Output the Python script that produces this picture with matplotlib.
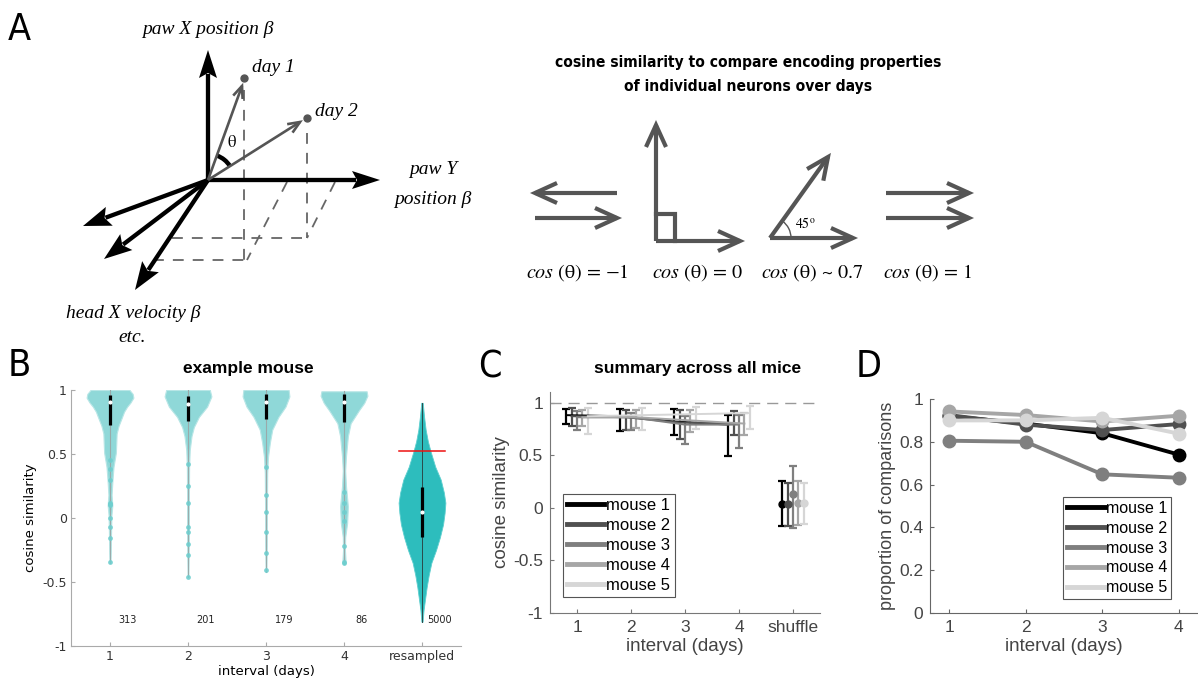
import numpy as np
import matplotlib
matplotlib.use('Agg')
import matplotlib.pyplot as plt
from matplotlib.patches import Polygon, Arc
from matplotlib.lines import Line2D

plt.rcParams['axes.unicode_minus'] = False
plt.rcParams['mathtext.fontset'] = 'stix'
plt.rcParams['font.family'] = ['Liberation Sans', 'DejaVu Sans']

# -----------------------
# Data
# -----------------------
# B: violin outlines (y, half width) per interval
violin_pos = [1, 2, 3, 4, 5]
violin_labels = ['1', '2', '3', '4', 'resampled']
counts = [313, 201, 179, 86, 5000]

v1_y = [1.0, 0.97, 0.94, 0.90, 0.87, 0.83, 0.79, 0.72, 0.66, 0.58, 0.51, 0.40, 0.30, 0.18, 0.10, 0.02, -0.10, -0.25, -0.35]
v1_w = [0.25, 0.29, 0.30, 0.26, 0.22, 0.18, 0.155, 0.11, 0.085, 0.08, 0.075, 0.045, 0.032, 0.02, 0.03, 0.018, 0.014, 0.01, 0.006]
v2_y = [1.0, 0.95, 0.87, 0.79, 0.71, 0.64, 0.53, 0.40, 0.20, 0.0, -0.20, -0.46]
v2_w = [0.28, 0.30, 0.245, 0.14, 0.075, 0.045, 0.022, 0.014, 0.012, 0.012, 0.01, 0.005]
v3_y = [1.0, 0.95, 0.87, 0.79, 0.69, 0.59, 0.48, 0.35, 0.10, -0.20, -0.42]
v3_w = [0.29, 0.30, 0.25, 0.16, 0.08, 0.05, 0.026, 0.015, 0.012, 0.01, 0.005]
v4_y = [0.99, 0.955, 0.90, 0.84, 0.74, 0.64, 0.48, 0.37, 0.25, 0.09, -0.04, -0.15, -0.25, -0.33, -0.36]
v4_w = [0.29, 0.30, 0.26, 0.19, 0.085, 0.05, 0.025, 0.015, 0.025, 0.05, 0.04, 0.015, 0.012, 0.02, 0.005]
v5_y = [0.90, 0.80, 0.69, 0.60, 0.52, 0.40, 0.30, 0.20, 0.12, 0.04, -0.05, -0.15, -0.25, -0.35, -0.45, -0.54, -0.63, -0.72, -0.81]
v5_w = [0.01, 0.025, 0.047, 0.075, 0.11, 0.17, 0.24, 0.28, 0.30, 0.29, 0.27, 0.23, 0.18, 0.12, 0.085, 0.06, 0.04, 0.02, 0.008]

box_lo = [0.727, 0.76, 0.775, 0.75, -0.146]
box_hi = [0.96, 0.955, 0.97, 0.97, 0.245]
medians = [0.91, 0.89, 0.91, 0.91, 0.05]
shuffle_thresh = 0.52

# a few visible single points in the tails
tail1 = [0.45, 0.38, 0.30, 0.12, 0.11, 0.10, 0.0, -0.07, -0.16, -0.34]
tail2 = [0.42, 0.25, 0.12, -0.07, -0.11, -0.20, -0.29, -0.46]
tail3 = [0.40, 0.18, 0.05, -0.11, -0.27, -0.41]
tail4 = [0.20, 0.12, 0.05, -0.02, -0.22, -0.34, -0.35]

# C: median and spread per mouse, intervals 1-4, plus shuffle
intervals = [1, 2, 3, 4]
mice = ['mouse 1', 'mouse 2', 'mouse 3', 'mouse 4', 'mouse 5']
c_med = [[0.88, 0.87, 0.82, 0.79],
         [0.87, 0.86, 0.81, 0.80],
         [0.86, 0.86, 0.79, 0.79],
         [0.86, 0.86, 0.83, 0.80],
         [0.87, 0.88, 0.89, 0.90]]
c_lo = [[0.80, 0.725, 0.69, 0.49],
        [0.775, 0.735, 0.65, 0.69],
        [0.74, 0.74, 0.61, 0.567],
        [0.78, 0.76, 0.72, 0.69],
        [0.70, 0.74, 0.75, 0.75]]
c_hi = [[0.94, 0.934, 0.934, 0.886],
        [0.95, 0.925, 0.925, 0.915],
        [0.92, 0.905, 0.87, 0.877],
        [0.93, 0.93, 0.925, 0.905],
        [0.95, 0.95, 0.96, 0.965]]
sh_med = [0.04, 0.04, 0.13, 0.05, 0.05]
sh_lo = [-0.175, -0.175, -0.19, -0.166, -0.15]
sh_hi = [0.254, 0.24, 0.40, 0.254, 0.24]

# D: proportion of comparisons
d_vals = [[0.92, 0.885, 0.84, 0.74],
          [0.925, 0.88, 0.855, 0.883],
          [0.805, 0.80, 0.648, 0.632],
          [0.942, 0.925, 0.895, 0.922],
          [0.90, 0.90, 0.912, 0.838]]

mouse_colors = ['#000000', '#505050', '#7f7f7f', '#a6a6a6', '#d6d6d6']
teal = '#2dbdbd'

fig = plt.figure(figsize=(11.98, 6.84), dpi=100)

# -----------------------
# overlay in pixel coords for panel A and labels
# -----------------------
ax0 = fig.add_axes([0, 0, 1, 1])
ax0.set_xlim(0, 1198)
ax0.set_ylim(684, 0)
ax0.axis('off')


def solid_arrow(p0, p1, lw=3.1, hl=28, hw=9, color='k'):
    p0, p1 = np.array(p0, float), np.array(p1, float)
    u = (p1 - p0) / np.hypot(*(p1 - p0))
    n = np.array([-u[1], u[0]])
    base = p1 - u * hl
    ax0.plot([p0[0], base[0] + u[0] * 4], [p0[1], base[1] + u[1] * 4], color=color, lw=lw, solid_capstyle='butt')
    ax0.add_patch(Polygon([p1, base + n * hw, base + u * 5, base - n * hw], closed=True, fc=color, ec='none'))


def open_arrow(p0, p1, lw=3, hl=22, hw=10, color='#555555'):
    p0, p1 = np.array(p0, float), np.array(p1, float)
    u = (p1 - p0) / np.hypot(*(p1 - p0))
    n = np.array([-u[1], u[0]])
    ax0.plot([p0[0], p1[0]], [p0[1], p1[1]], color=color, lw=lw, solid_capstyle='butt')
    a, b = p1 - u * hl + n * hw, p1 - u * hl - n * hw
    ax0.plot([a[0], p1[0], b[0]], [a[1], p1[1], b[1]], color=color, lw=lw,
             solid_joinstyle='miter', solid_capstyle='butt')


serif_it = dict(family=['Liberation Serif', 'DejaVu Serif'], style='italic', fontsize=14)
gray_dash = dict(color='#666666', lw=1.3, dashes=(6, 5))

# dashed projection lines
ax0.plot([244, 244], [90, 260], **gray_dash)
ax0.plot([307, 307], [133, 238], **gray_dash)
ax0.plot([287, 247], [182, 260], **gray_dash)
ax0.plot([335, 307], [182, 238], **gray_dash)
ax0.plot([172, 307], [238, 238], **gray_dash)
ax0.plot([153, 247], [260, 260], **gray_dash)

O = (208, 180)
solid_arrow(O, (208, 50))
solid_arrow(O, (380, 180))
solid_arrow(O, (83, 226), hw=10)
solid_arrow(O, (104, 259), hw=10)
solid_arrow(O, (135, 290), hw=10)

open_arrow(O, (242, 86), lw=1.9, hl=12, hw=5)
open_arrow(O, (300, 122), lw=1.9, hl=12, hw=5)
ax0.plot([244, 307], [78, 118], 'o', color='#555555', ms=5, ls='none')
ax0.add_patch(Arc(O, 52, 52, theta1=-70, theta2=-32, color='k', lw=3.2))
ax0.text(232, 143, 'θ', family='STIXGeneral', fontsize=12, ha='center', va='center')

ax0.text(208, 29, 'paw X position β', ha='center', va='center', **serif_it)
ax0.text(252, 68, 'day 1', ha='left', va='center', **serif_it)
ax0.text(315, 112, 'day 2', ha='left', va='center', **serif_it)
ax0.text(433, 170, 'paw Y', ha='center', va='center', **serif_it)
ax0.text(433, 199, 'position β', ha='center', va='center', **serif_it)
ax0.text(133, 313, 'head X velocity β', ha='center', va='center', **serif_it)
ax0.text(132, 337, 'etc.', ha='center', va='center', **serif_it)

# cosine sketches
cond_bold = dict(family='DejaVu Sans', stretch='condensed', fontweight='bold', fontsize=11.2)
ax0.text(748, 63, 'cosine similarity to compare encoding properties', ha='center', va='center', **cond_bold)
ax0.text(748, 87, 'of individual neurons over days', ha='center', va='center', **cond_bold)

open_arrow((617, 193), (535, 193))
open_arrow((535, 218), (617, 218))
open_arrow((656, 241), (656, 125))
open_arrow((656, 241), (740, 241))
ax0.plot([656, 675, 675], [214, 214, 241], color='#555555', lw=3, solid_joinstyle='miter')
open_arrow((770, 238), (853, 238))
open_arrow((770, 238), (828, 157))
ax0.add_patch(Arc((770, 238), 42, 42, theta1=-54, theta2=0, color='#555555', lw=1))
ax0.text(795, 223, r'45$^{\mathrm{o}}$', family='STIXGeneral', fontsize=10, ha='left', va='center')
open_arrow((886, 193), (969, 193))
open_arrow((886, 218), (969, 218))

cos_x = [577, 697, 812, 927]
cos_txt = ['= \u22121', '= 0', '~ 0.7', '= 1']
for x, t in zip(cos_x, cos_txt):
    ax0.text(x, 273, r'$\mathit{cos}$ (θ) ' + t, family='STIXGeneral', fontsize=14.5,
             ha='center', va='center')

# panel letters and titles
letter_font = dict(family='DejaVu Sans', stretch='condensed', fontsize=27, ha='center', va='center')
ax0.text(19, 30, 'A', **letter_font)
ax0.text(19, 366, 'B', **letter_font)
ax0.text(490, 367, 'C', **letter_font)
ax0.text(869, 367, 'D', **letter_font)
ax0.text(248, 368, 'example mouse', ha='center', va='center', fontsize=12.5, fontweight='bold')
ax0.text(698, 368, 'summary across all mice', ha='center', va='center', fontsize=12.5, fontweight='bold')

# -----------------------
# B: violins
# -----------------------
axB = fig.add_axes([71 / 1198, 38 / 684, 390 / 1198, 256 / 684])
axB.patch.set_alpha(0)
prof_y = [v1_y, v2_y, v3_y, v4_y, v5_y]
prof_w = [v1_w, v2_w, v3_w, v4_w, v5_w]
tails = [tail1, tail2, tail3, tail4]
for i, pos in enumerate(violin_pos):
    y = np.array(prof_y[i])
    w = np.array(prof_w[i])
    if i < 4:
        axB.fill_betweenx(y, pos - w, pos + w, facecolor='#8fd8d8', edgecolor='#b8e6e6', lw=0.8)
        axB.plot([pos, pos], [y.min(), y.max()], color='#9aaaaa', lw=0.8)
        axB.plot([pos] * len(tails[i]), tails[i], 'o', color='#6fcfcf', ms=2.5, alpha=0.8)
    else:
        axB.fill_betweenx(y, pos - w, pos + w, facecolor=teal, edgecolor='#5ecfcf', lw=0.6)
        axB.plot([pos, pos], [y.min(), y.max()], color='#2a4a4a', lw=0.7)
    axB.plot([pos, pos], [box_lo[i], box_hi[i]], color='k', lw=2.3, solid_capstyle='butt')
    axB.plot(pos, medians[i], 'o', color='white', ms=2)
    axB.text(pos + 0.23, -0.8, str(counts[i]), family='DejaVu Sans', fontsize=7,
             ha='center', va='center', color='#222222')
axB.plot([4.7, 5.3], [shuffle_thresh, shuffle_thresh], color='#ee1111', lw=1.1)

axB.set_xlim(0.5, 5.5)
axB.set_ylim(-1, 1)
axB.set_xticks(violin_pos)
axB.set_xticklabels(violin_labels, family='DejaVu Sans', fontsize=9)
axB.set_yticks([-1, -0.5, 0, 0.5, 1])
axB.set_yticklabels(['-1', '-0.5', '0', '0.5', '1'], family='DejaVu Sans', fontsize=9)
axB.set_xlabel('interval (days)', family='DejaVu Sans', fontsize=9.5, labelpad=1)
axB.set_ylabel('cosine similarity', family='DejaVu Sans', fontsize=9.5, labelpad=4)
for s in ['top', 'right']:
    axB.spines[s].set_visible(False)
for s in ['left', 'bottom']:
    axB.spines[s].set_color('#aaaaaa')
axB.tick_params(direction='in', length=3, color='#aaaaaa', labelcolor='#333333', pad=3)

# -----------------------
# C: summary error bars
# -----------------------
axC = fig.add_axes([550 / 1198, 71 / 684, 270 / 1198, 221 / 684])
axC.patch.set_alpha(0)
offsets = [-0.2, -0.1, 0.0, 0.1, 0.2]
axC.axhline(1, color='#999999', lw=1, dashes=(8, 5))
for i in range(5):
    x = np.array(intervals) + offsets[i]
    med = np.array(c_med[i])
    err = [med - np.array(c_lo[i]), np.array(c_hi[i]) - med]
    axC.errorbar(x, med, yerr=err, color=mouse_colors[i], lw=1.4, elinewidth=1.6,
                 capsize=3, capthick=1.6)
    axC.errorbar([5 + offsets[i]], [sh_med[i]], yerr=[[sh_med[i] - sh_lo[i]], [sh_hi[i] - sh_med[i]]],
                 fmt='o', color=mouse_colors[i], ms=5, elinewidth=1.6, capsize=3, capthick=1.6)
handles = [Line2D([], [], color=c, lw=3.5) for c in mouse_colors]
legC = axC.legend(handles, mice, loc='upper left', bbox_to_anchor=(0.048, 0.538), borderaxespad=0,
                  fontsize=12, handlelength=2.2, handletextpad=0.15, labelspacing=0.3,
                  borderpad=0.25, fancybox=False, framealpha=1, edgecolor='#555555')
legC.get_frame().set_linewidth(0.8)
axC.set_xlim(0.5, 5.5)
axC.set_ylim(-1, 1.1)
axC.set_xticks([1, 2, 3, 4, 5])
axC.set_xticklabels(['1', '2', '3', '4', 'shuffle'], fontsize=12.5)
axC.set_yticks([-1, -0.5, 0, 0.5, 1])
axC.set_yticklabels(['-1', '-0.5', '0', '0.5', '1'], fontsize=12.5)
axC.set_xlabel('interval (days)', fontsize=13.5, color='#444444', labelpad=2)
axC.set_ylabel('cosine similarity', fontsize=13.5, color='#444444', labelpad=2)
for s in ['top', 'right']:
    axC.spines[s].set_visible(False)
for s in ['left', 'bottom']:
    axC.spines[s].set_color('#777777')
axC.tick_params(direction='in', length=3, color='#777777', labelcolor='#444444', pad=5)

# -----------------------
# D: proportion of comparisons
# -----------------------
axD = fig.add_axes([930 / 1198, 71 / 684, 268 / 1198, 214 / 684])
axD.patch.set_alpha(0)
for i in range(5):
    axD.plot(intervals, d_vals[i], '-o', color=mouse_colors[i], lw=2.8, ms=9)
handles = [Line2D([], [], color=c, lw=3.5) for c in mouse_colors]
legD = axD.legend(handles, mice, loc='upper left', bbox_to_anchor=(0.496, 0.542), borderaxespad=0,
                  fontsize=11.5, handlelength=2.4, handletextpad=0.05, labelspacing=0.3,
                  borderpad=0.25, fancybox=False, framealpha=1, edgecolor='#555555')
legD.get_frame().set_linewidth(0.8)
axD.set_xlim(0.75, 4.25)
axD.set_ylim(0, 1)
axD.set_xticks(intervals)
axD.set_xticklabels(['1', '2', '3', '4'], fontsize=12.5)
axD.set_yticks([0, 0.2, 0.4, 0.6, 0.8, 1])
axD.set_yticklabels(['0', '0.2', '0.4', '0.6', '0.8', '1'], fontsize=12.5)
axD.set_xlabel('interval (days)', fontsize=13.5, color='#444444', labelpad=2)
axD.set_ylabel('proportion of comparisons', fontsize=13, color='#444444', labelpad=2)
for s in ['top', 'right']:
    axD.spines[s].set_visible(False)
for s in ['left', 'bottom']:
    axD.spines[s].set_color('#666666')
axD.tick_params(direction='in', length=3, color='#666666', labelcolor='#444444', pad=5)

fig.savefig('out.png', dpi=100)
